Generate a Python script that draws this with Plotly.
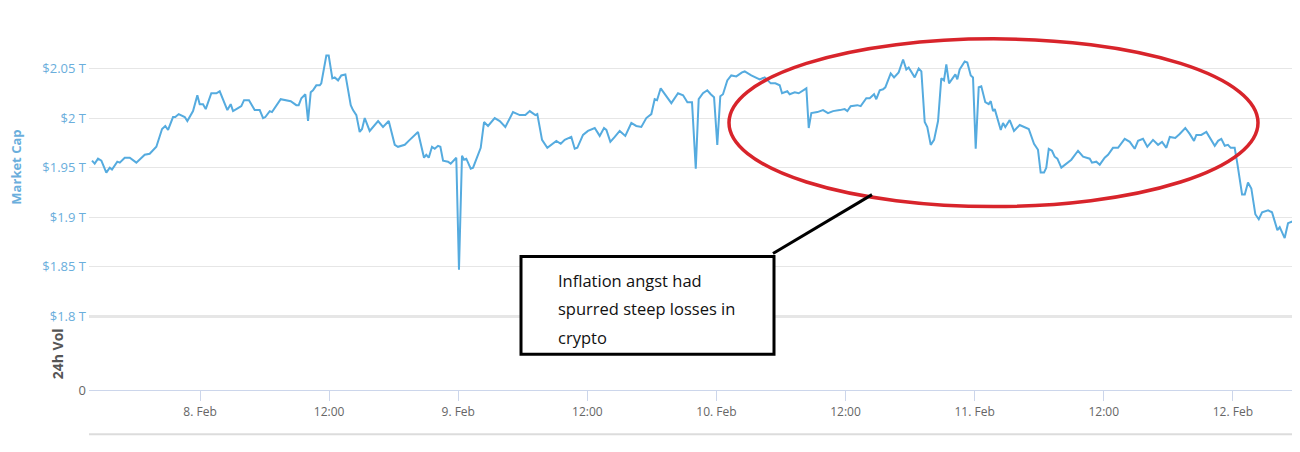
import pandas as pd
import plotly.graph_objects as go

# ---- data: hours since 2022-02-08 00:00 and market cap (trillion USD) ----
hours = [
    -10.04, -9.79, -9.48, -9.17, -8.71, -8.39, -8.18, -7.69, -7.46, -7.00,
    -6.53, -5.92, -5.14, -4.68, -4.06, -3.53, -3.23, -2.97, -2.51, -2.30,
    -1.98, -1.42, -1.18, -0.65, -0.25, -0.03, 0.28, 0.53, 1.05, 1.52,
    1.83, 2.54, 2.85, 3.07, 3.53, 3.84, 4.09, 4.55, 5.08, 5.55,
    5.86, 6.07, 6.48, 6.69, 7.50, 8.11, 8.43, 8.95, 9.17, 9.42,
    9.79, 10.04, 10.29, 10.50, 10.81, 11.13, 11.27, 11.74, 11.96, 12.30,
    12.52, 12.83,
    13.13, 13.51, 14.01, 14.22, 14.53, 14.84, 15.06, 15.31, 15.77, 16.55,
    17.01, 17.54, 18.10, 18.40, 19.03, 19.49, 20.26, 20.82, 21.03, 21.26,
    21.56, 21.82, 22.12, 22.34, 22.59, 23.05, 23.30, 23.82, 24.07, 24.35,
    24.54, 24.75, 25.16, 25.38, 26.09, 26.40, 26.77, 27.39, 27.86, 28.38,
    29.09, 29.72, 30.24, 30.65, 31.17, 31.35, 31.79, 32.28, 32.65, 33.12,
    33.53, 33.90, 34.51, 34.83, 35.07, 35.60, 36.06,
    36.69, 37.15, 37.55, 37.77, 38.14, 38.55, 39.01, 39.53, 40.09, 40.55,
    41.02, 41.48, 41.95, 42.26, 42.48, 42.82, 43.25, 43.81, 44.43, 44.90,
    45.30, 45.73, 46.08, 46.35, 46.75, 47.15, 47.47, 47.78, 48.08, 48.36,
    48.61, 49.01, 49.38, 49.85, 50.38, 50.63, 51.24, 51.56, 52.02, 52.49,
    53.05, 53.48, 53.88, 54.10, 54.59, 54.81, 55.28, 55.65, 55.89, 56.36,
    56.58, 56.82, 57.38, 57.91, 58.37, 58.84, 59.46,
    59.92, 60.17, 60.48, 61.10, 61.41, 61.93, 62.25, 62.65, 62.86, 63.18,
    63.49, 63.70, 64.20, 64.51, 64.94, 65.35, 65.65, 65.87, 66.43, 66.80,
    67.05, 67.36, 67.60, 67.92, 68.23, 68.60, 68.90, 69.15, 69.37, 69.62,
    69.99, 70.21, 70.39, 70.61, 71.08, 71.32, 71.64, 71.85, 72.10, 72.38,
    72.62, 72.99, 73.31, 73.50, 73.71, 73.87, 74.43, 74.64, 74.85, 75.26,
    75.66, 76.19, 77.03, 77.52, 77.89, 78.14, 78.45, 78.66, 78.89, 79.19,
    79.44, 79.69, 80.06, 80.52, 80.99, 81.61, 82.08, 82.70,
    82.91, 83.31, 83.63, 84.09, 84.40, 84.86, 85.33, 85.95, 86.42, 86.88,
    87.19, 87.65, 88.05, 88.58, 89.05, 89.42, 89.82, 90.14, 90.65, 91.06,
    91.58, 91.99, 92.39, 92.61, 93.07, 93.54, 93.94, 94.32, 94.63, 94.93,
    95.25, 95.55, 95.80, 96.17, 96.42, 96.86, 97.11, 97.41, 97.72, 98.09,
    98.41, 98.72, 99.28, 99.64, 100.14, 100.36, 100.82, 101.13, 101.60, 101.90,
    102.25,
]
market_cap = [
    1.957, 1.954, 1.959, 1.957, 1.945, 1.950, 1.948, 1.956, 1.955, 1.960,
    1.960, 1.955, 1.963, 1.964, 1.971, 1.989, 1.992, 1.988, 2.001, 2.001,
    2.004, 2.001, 1.997, 2.007, 2.023, 2.014, 2.014, 2.009, 2.025, 2.025,
    2.027, 2.008, 2.014, 2.007, 2.010, 2.012, 2.018, 2.018, 2.008, 2.008,
    2.000, 2.001, 2.007, 2.006, 2.019, 2.018, 2.017, 2.013, 2.013, 2.020,
    2.024, 1.997, 2.026, 2.028, 2.033, 2.033, 2.035, 2.063, 2.063, 2.040,
    2.041, 2.038,
    2.043, 2.044, 2.013, 2.008, 2.003, 1.986, 1.989, 2.000, 1.987, 1.997,
    1.991, 1.997, 1.973, 1.971, 1.973, 1.978, 1.986, 1.960, 1.963, 1.960,
    1.971, 1.969, 1.972, 1.971, 1.957, 1.956, 1.954, 1.960, 1.847, 1.962,
    1.958, 1.959, 1.949, 1.950, 1.970, 1.996, 1.992, 2.000, 1.997, 1.991,
    2.006, 2.003, 2.003, 2.007, 2.003, 2.004, 1.978, 1.970, 1.973, 1.977,
    1.974, 1.978, 1.981, 1.969, 1.970, 1.983, 1.987,
    1.990, 1.982, 1.990, 1.988, 1.976, 1.981, 1.987, 1.982, 1.995, 1.992,
    1.991, 2.000, 2.004, 2.019, 2.018, 2.030, 2.024, 2.015, 2.025, 2.023,
    2.016, 2.016, 1.949, 2.019, 2.025, 2.028, 2.024, 2.021, 1.973, 2.022,
    2.024, 2.038, 2.043, 2.042, 2.046, 2.047, 2.043, 2.041, 2.039, 2.041,
    2.035, 2.035, 2.033, 2.025, 2.027, 2.024, 2.026, 2.025, 2.027, 2.030,
    1.990, 2.005, 2.006, 2.008, 2.005, 2.007, 2.008,
    2.009, 2.007, 2.012, 2.013, 2.012, 2.020, 2.020, 2.024, 2.019, 2.028,
    2.029, 2.031, 2.045, 2.041, 2.046, 2.059, 2.049, 2.051, 2.041, 2.050,
    2.047, 1.996, 1.991, 1.973, 1.978, 1.997, 2.040, 2.038, 2.054, 2.035,
    2.041, 2.044, 2.039, 2.049, 2.057, 2.056, 2.043, 2.041, 1.969, 2.031,
    2.032, 2.016, 2.014, 2.017, 2.007, 2.009, 1.988, 1.995, 1.991, 1.998,
    1.987, 1.993, 1.989, 1.974, 1.968, 1.945, 1.945, 1.950, 1.969, 1.967,
    1.961, 1.959, 1.950, 1.954, 1.958, 1.967, 1.961, 1.959,
    1.955, 1.956, 1.953, 1.960, 1.963, 1.970, 1.970, 1.979, 1.976, 1.969,
    1.977, 1.979, 1.971, 1.978, 1.973, 1.976, 1.970, 1.981, 1.980, 1.984,
    1.990, 1.984, 1.977, 1.983, 1.983, 1.986, 1.978, 1.972, 1.977, 1.979,
    1.972, 1.973, 1.970, 1.970, 1.954, 1.923, 1.923, 1.935, 1.929, 1.903,
    1.898, 1.905, 1.907, 1.905, 1.887, 1.890, 1.879, 1.894, 1.896, 1.890,
    1.892,
]

mcap_tick_vals = [1.8, 1.85, 1.9, 1.95, 2.0, 2.05, 2.1]
mcap_tick_text = ["$1.8 T", "$1.85 T", "$1.9 T", "$1.95 T", "$2 T", "$2.05 T", ""]
x_tick_hours = [0, 12, 24, 36, 48, 60, 72, 84, 96]
x_tick_text = ["8. Feb", "12:00", "9. Feb", "12:00", "10. Feb", "12:00",
               "11. Feb", "12:00", "12. Feb"]
note_lines = ["Inflation angst had", "spurred steep losses in", "crypto"]

base = pd.Timestamp("2022-02-08 00:00")
times = base + pd.to_timedelta(hours, unit="h")
x_ticks = base + pd.to_timedelta(x_tick_hours, unit="h")
x_range = [base + pd.to_timedelta(-10.32, unit="h"), base + pd.to_timedelta(101.50, unit="h")]

# page layout: the figure sits 8px in from the left; vertically the photo maps
# figure pixels to page pixels as page = Y0 + YS * fig
OFF_X = 8
Y0, YS = 6.1, 0.981
W, H = 1284, 436
L = 89 - OFF_X


def px(xp):  # page x -> paper x
    return (xp - OFF_X - L) / (W - L)


def py(yp):  # page y -> paper y
    return 1 - ((yp - Y0) / YS) / H


LINE_BLUE = "#55abdf"
LABEL_BLUE = "#6aaedc"
GREY = "#666666"
FONT = "Open Sans, Noto Sans, sans-serif"

fig = go.Figure()
fig.add_trace(go.Scatter(
    x=times, y=market_cap, mode="lines",
    line=dict(color=LINE_BLUE, width=2), xaxis="x", yaxis="y",
    hoverinfo="skip", showlegend=False,
))
# empty 24h volume pane (no volume bars are shown in the chart)
fig.add_trace(go.Scatter(x=[], y=[], mode="lines", xaxis="x", yaxis="y2",
                         hoverinfo="skip", showlegend=False))

shapes = []
# separator between panes
shapes.append(dict(type="line", xref="paper", yref="paper", x0=0, x1=1,
                   y0=py(315), y1=py(315), line=dict(color="#e6e6e6", width=3), layer="below"))
# bottom navigator line (as low as the figure allows)
shapes.append(dict(type="line", xref="paper", yref="paper", x0=0, x1=1,
                   y0=0.002, y1=0.002, line=dict(color="#dcdcdc", width=2), layer="below"))
# red ellipse
shapes.append(dict(type="circle", xref="paper", yref="paper",
                   x0=px(729), x1=px(1258), y0=py(205), y1=py(37),
                   line=dict(color="#d8242b", width=3.5)))
# connector line
shapes.append(dict(type="line", xref="paper", yref="paper",
                   x0=px(773), y0=py(252), x1=px(872), y1=py(193),
                   line=dict(color="#000000", width=3)))
# note box
shapes.append(dict(type="rect", xref="paper", yref="paper",
                   x0=px(521), x1=px(774), y0=py(353), y1=py(255),
                   line=dict(color="#000000", width=3), fillcolor="white"))

annotations = []
for i, t in enumerate(note_lines):
    annotations.append(dict(text=t, xref="paper", yref="paper", x=px(556), y=py(279 + i * 28.5),
                            xanchor="left", yanchor="middle", showarrow=False,
                            font=dict(family=FONT, size=16.5, color="#111111")))
annotations.append(dict(text="<b>Market Cap</b>", xref="paper", yref="paper", x=px(16), y=py(166),
                        textangle=-90, showarrow=False, xanchor="center", yanchor="middle",
                        font=dict(family=FONT, size=13, color=LABEL_BLUE)))
annotations.append(dict(text="<b>24h Vol</b>", xref="paper", yref="paper", x=px(57), y=py(353),
                        textangle=-90, showarrow=False, xanchor="center", yanchor="middle",
                        font=dict(family=FONT, size=14, color="#555555")))

fig.update_layout(
    width=W, height=H,
    margin=dict(l=L, r=0, t=0, b=0),
    paper_bgcolor="white", plot_bgcolor="white",
    font=dict(family=FONT, size=12, color=GREY),
    showlegend=False,
    xaxis=dict(
        anchor="y2", range=x_range, tickvals=x_ticks, ticktext=x_tick_text,
        showgrid=False, zeroline=False, showline=True, linecolor="#ccd6eb", linewidth=1,
        ticks="outside", ticklen=10, tickcolor="#ccd6eb", tickwidth=1,
        tickfont=dict(family=FONT, size=12, color=GREY),
    ),
    yaxis=dict(
        anchor="x", domain=[py(315), py(17)], range=[1.8, 2.1],
        tickvals=mcap_tick_vals, ticktext=mcap_tick_text,
        showgrid=True, gridcolor="#e6e6e6", gridwidth=1, zeroline=False, showline=False,
        ticks="", tickfont=dict(family=FONT, size=13, color=LABEL_BLUE),
        ticklabelstandoff=2,
    ),
    yaxis2=dict(
        anchor="x", domain=[py(389), py(315)], range=[0, 1], tickvals=[0], ticktext=["0"],
        showgrid=False, zeroline=False, showline=False, ticks="",
        tickfont=dict(family=FONT, size=13, color=GREY), ticklabelstandoff=2,
    ),
    shapes=shapes, annotations=annotations,
)

fig.write_html("out.html")
